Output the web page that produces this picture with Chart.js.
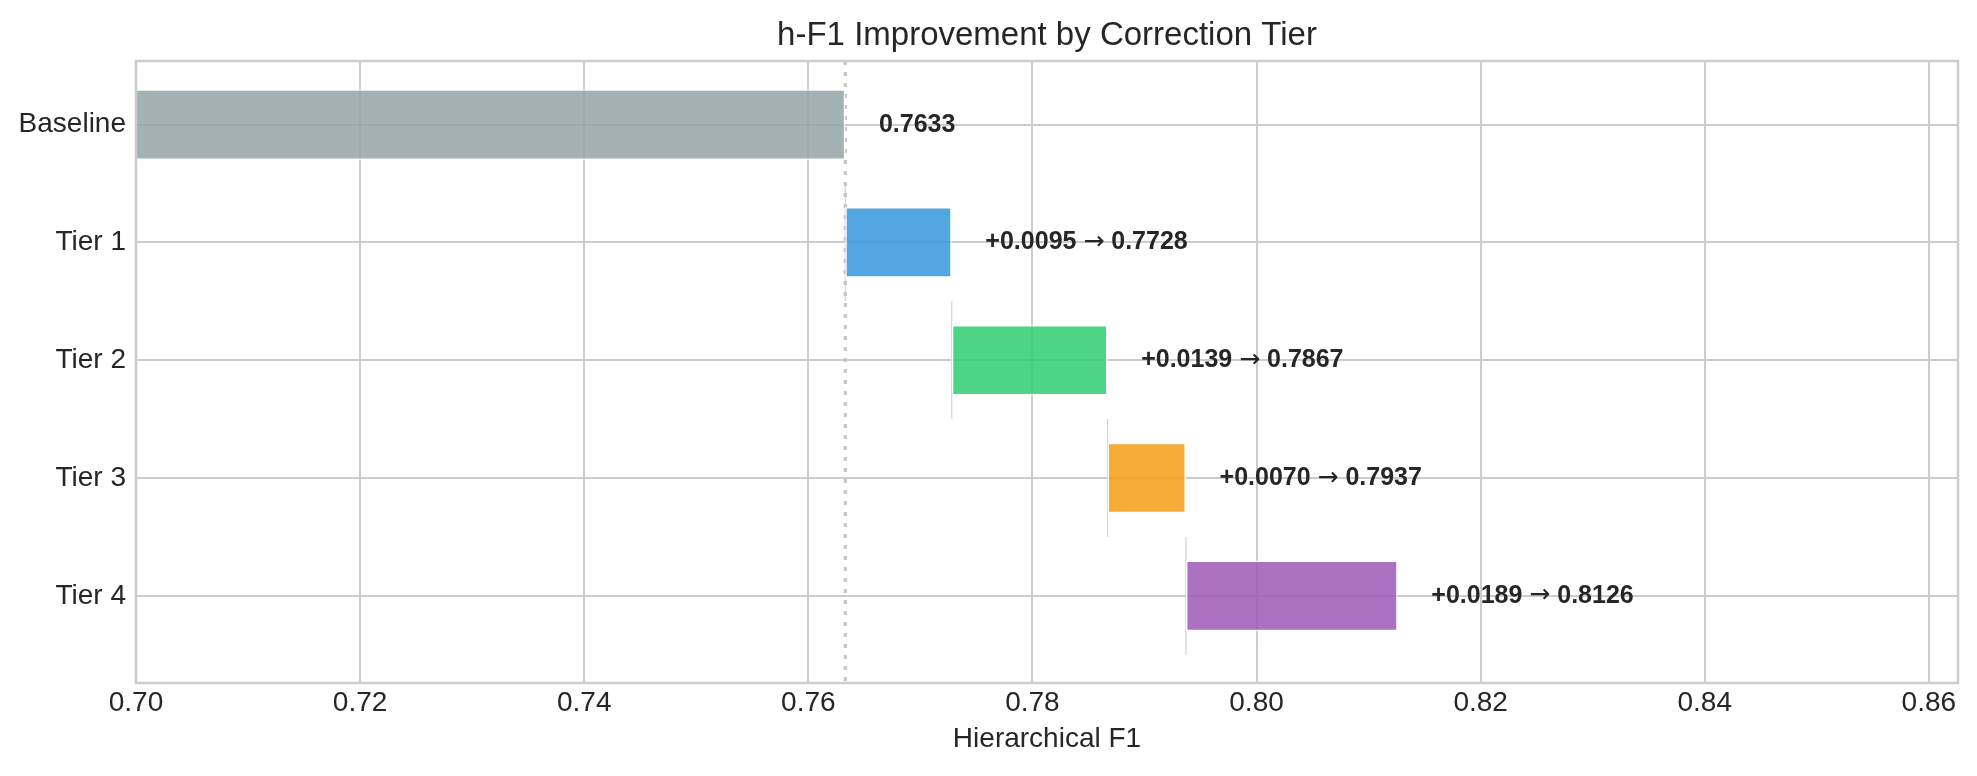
<!DOCTYPE html>
<html>
<head>
<meta charset="utf-8">
<script src="https://cdn.jsdelivr.net/npm/chart.js@4"></script>
<style>
  html, body { margin: 0; padding: 0; background: #fff; }
  #wrap { width: 1977px; height: 776px; }
</style>
</head>
<body>
<div id="wrap"><canvas id="tierChart"></canvas></div>
<script>
// data
const categories = ['Baseline', 'Tier 1', 'Tier 2', 'Tier 3', 'Tier 4'];
const baselineScore = 0.7633;
const tierGains = [0.0095, 0.0139, 0.0070, 0.0189];
const cumulativeScores = [0.7633, 0.7728, 0.7867, 0.7937, 0.8126];
const xTickValues = [0.70, 0.72, 0.74, 0.76, 0.78, 0.80, 0.82, 0.84, 0.86];
const barColors = ['#95a5a6', '#3498db', '#2ecc71', '#f39c12', '#9b59b6'];
const chartTitle = 'h-F1 Improvement by Correction Tier';

const xMin = 0.70, xMax = 0.8626;
const yMin = -0.54, yMax = 4.74;
const textColor = '#262626';
const gridColor = '#cccccc';
const sansFont = "'Liberation Sans', Arial, sans-serif";

Chart.defaults.font.family = sansFont;
Chart.defaults.color = textColor;

const alpha = (hex, a) => {
    const n = parseInt(hex.slice(1), 16);
    return `rgba(${n >> 16}, ${(n >> 8) & 255}, ${n & 255}, ${a})`;
};

// floating bars: baseline from 0, every tier from the previous total
const barData = categories.map((c, i) => ({
    x: [i === 0 ? 0 : cumulativeScores[i - 1], cumulativeScores[i]],
    y: i
}));

// label pieces: [before arrow, after arrow]
const labelParts = categories.map((c, i) =>
    i === 0 ? [baselineScore.toFixed(4), null]
            : [`+${tierGains[i - 1].toFixed(4)} `, ` ${cumulativeScores[i].toFixed(4)}`]
);

// thin connectors at the start of each tier
const connectorSets = tierGains.map((g, k) => ({
    type: 'line',
    data: [{x: cumulativeScores[k], y: k + 0.5}, {x: cumulativeScores[k], y: k + 1.5}],
    borderColor: '#d4d4d4',
    borderWidth: 1.2,
    pointRadius: 0,
    order: 3
}));

const baselineLine = {
    type: 'line',
    data: [{x: baselineScore, y: yMin}, {x: baselineScore, y: yMax}],
    borderColor: '#c8c8c8',
    borderWidth: 3.5,
    borderDash: [4, 7],
    pointRadius: 0,
    order: 2
};

const valueLabels = {
    id: 'valueLabels',
    afterDatasetsDraw(chart) {
        const {ctx, scales: {x, y}} = chart;
        const mainFont = `bold 25px ${sansFont}`;
        const arrowFont = "25px 'DejaVu Sans'";
        ctx.save();
        ctx.fillStyle = textColor;
        ctx.textAlign = 'left';
        ctx.textBaseline = 'middle';
        labelParts.forEach(([a, b], i) => {
            let px = x.getPixelForValue(cumulativeScores[i] + 0.003);
            const py = y.getPixelForValue(i);
            ctx.font = mainFont;
            ctx.fillText(a, px, py);
            if (b === null) return;
            px += ctx.measureText(a).width;
            ctx.font = arrowFont;
            ctx.fillText('\u2192', px, py);
            px += ctx.measureText('\u2192').width;
            ctx.font = mainFont;
            ctx.fillText(b, px, py);
        });
        ctx.restore();
    }
};

// spines all round, and the title centred over the plot area like matplotlib
const frame = {
    id: 'frame',
    afterDatasetsDraw(chart) {
        const a = chart.chartArea;
        const ctx = chart.ctx;
        ctx.save();
        ctx.strokeStyle = gridColor;
        ctx.lineWidth = 2.5;
        ctx.strokeRect(a.left, a.top, a.right - a.left, a.bottom - a.top);
        ctx.font = `33px ${sansFont}`;
        ctx.fillStyle = textColor;
        ctx.textAlign = 'center';
        ctx.textBaseline = 'alphabetic';
        ctx.fillText(chartTitle, (a.left + a.right) / 2, a.top - 16);
        ctx.restore();
    }
};

const config = {
    type: 'bar',
    data: {
        datasets: [
            {
                type: 'bar',
                indexAxis: 'y',
                data: barData,
                backgroundColor: barColors.map(c => alpha(c, 0.85)),
                borderColor: 'rgba(255,255,255,0.85)',
                borderWidth: 1.5,
                borderSkipped: false,
                barPercentage: 0.6,
                categoryPercentage: 1,
                order: 1
            },
            baselineLine,
            ...connectorSets
        ]
    },
    options: {
        responsive: true,
        maintainAspectRatio: false,
        animation: false,
        events: [],
        layout: { padding: { left: 0, right: 19, top: 61, bottom: 0 } },
        plugins: {
            legend: { display: false },
            tooltip: { enabled: false },
            title: { display: false }
        },
        scales: {
            x: {
                type: 'linear',
                min: xMin,
                max: xMax,
                offset: false,
                afterBuildTicks: (s) => { s.ticks = xTickValues.map(v => ({value: v})); },
                afterFit: (s) => { s.height = 93; },
                ticks: {
                    font: { size: 28 },
                    color: textColor,
                    padding: 3,
                    callback: (v) => Number(v).toFixed(2)
                },
                grid: { color: gridColor, lineWidth: 2, drawTicks: false, offset: false },
                border: { display: false },
                title: {
                    display: true,
                    text: 'Hierarchical F1',
                    color: textColor,
                    font: { size: 28 },
                    padding: { top: 0, bottom: 20 }
                }
            },
            y: {
                type: 'linear',
                min: yMin,
                max: yMax,
                reverse: true,
                offset: false,
                afterBuildTicks: (s) => { s.ticks = categories.map((c, i) => ({value: i})); },
                afterFit: (s) => { s.width = 136; },
                ticks: {
                    font: { size: 28 },
                    color: textColor,
                    padding: 10,
                    callback: (v) => categories[v]
                },
                grid: { color: gridColor, lineWidth: 2, drawTicks: false, offset: false },
                border: { display: false }
            }
        }
    },
    plugins: [valueLabels, frame]
};

document.addEventListener('DOMContentLoaded', () => {
    new Chart(document.getElementById('tierChart'), config);
});
</script>
</body>
</html>
